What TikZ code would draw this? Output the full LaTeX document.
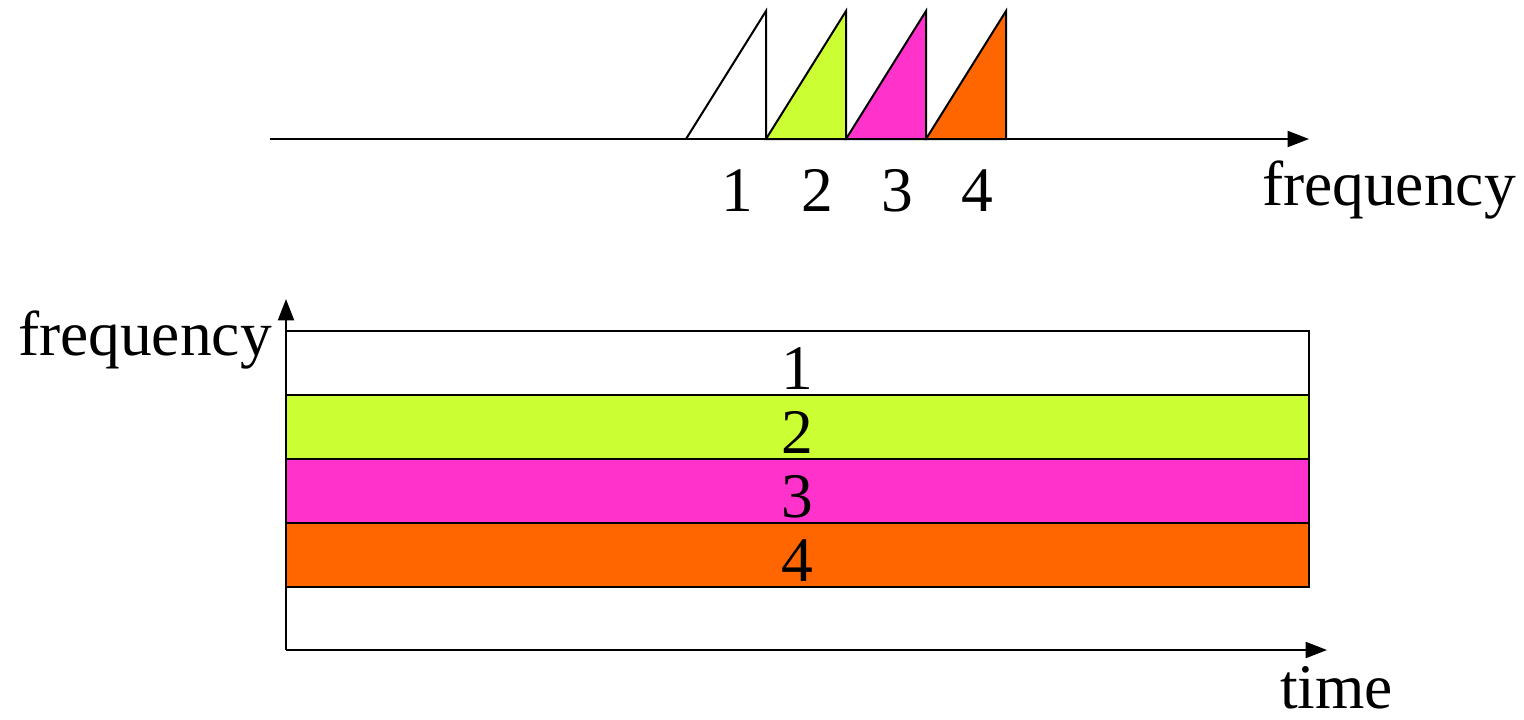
\documentclass[tikz,border=0pt]{standalone}
\usepackage{fontspec}
\setmainfont{Liberation Serif}
\usetikzlibrary{arrows.meta}
\definecolor{cgreen}{HTML}{CCFF33}
\definecolor{cmag}{HTML}{FF33CC}
\definecolor{corange}{HTML}{FF6600}
\begin{document}
\begin{tikzpicture}[x=0.75pt,y=-0.75pt,
  line width=1.5pt,
  axis/.style={-{Triangle[length=16pt,width=12pt]}},
  lbl/.style={inner sep=0pt,anchor=base,font=\fontsize{47.6}{57}\selectfont},
  lbll/.style={inner sep=0pt,anchor=base west,font=\fontsize{47.6}{57}\selectfont},
  band/.style={draw=black,line width=1.5pt}]
\useasboundingbox (0,0) rectangle (1524,719);
% top spectrum
\coordinate (ta) at (270,139);
\coordinate (tb) at (1309,139);
\draw[fill=white] (686,139) -- (766,11) -- (766,139);
\draw[fill=cgreen] (766,139) -- (846,11) -- (846,139) -- cycle;
\draw[fill=cmag] (846,139) -- (926,11) -- (926,139) -- cycle;
\draw[fill=corange] (926,139) -- (1006,11) -- (1006,139) -- cycle;
\draw[axis] (ta) -- (tb);
\node[lbl] (n1) at (737,211) {1};
\node[lbl] (n2) at (817,211) {2};
\node[lbl] (n3) at (897,211) {3};
\node[lbl] (n4) at (977,211) {4};
\node[lbll] (ftop) at (1261,205) {frequency};
% bottom time-frequency
\draw[band,fill=white] (286,331) rectangle (1309,395);
\draw[band,fill=cgreen] (286,395) rectangle (1309,459);
\draw[band,fill=cmag] (286,459) rectangle (1309,523);
\draw[band,fill=corange] (286,523) rectangle (1309,587);
\node[lbl] (b1) at (797,389) {1};
\node[lbl] (b2) at (797,453) {2};
\node[lbl] (b3) at (797,517) {3};
\node[lbl] (b4) at (797,581) {4};
\coordinate (o) at (286,650);
\coordinate (ytip) at (286,299);
\coordinate (xtip) at (1327,650);
\draw[axis] (o) -- (ytip);
\draw[axis] (o) -- (xtip);
\node[lbll] (fleft) at (17,355) {frequency};
\node[lbll] (time) at (1279,708) {time};
\end{tikzpicture}
\end{document}
